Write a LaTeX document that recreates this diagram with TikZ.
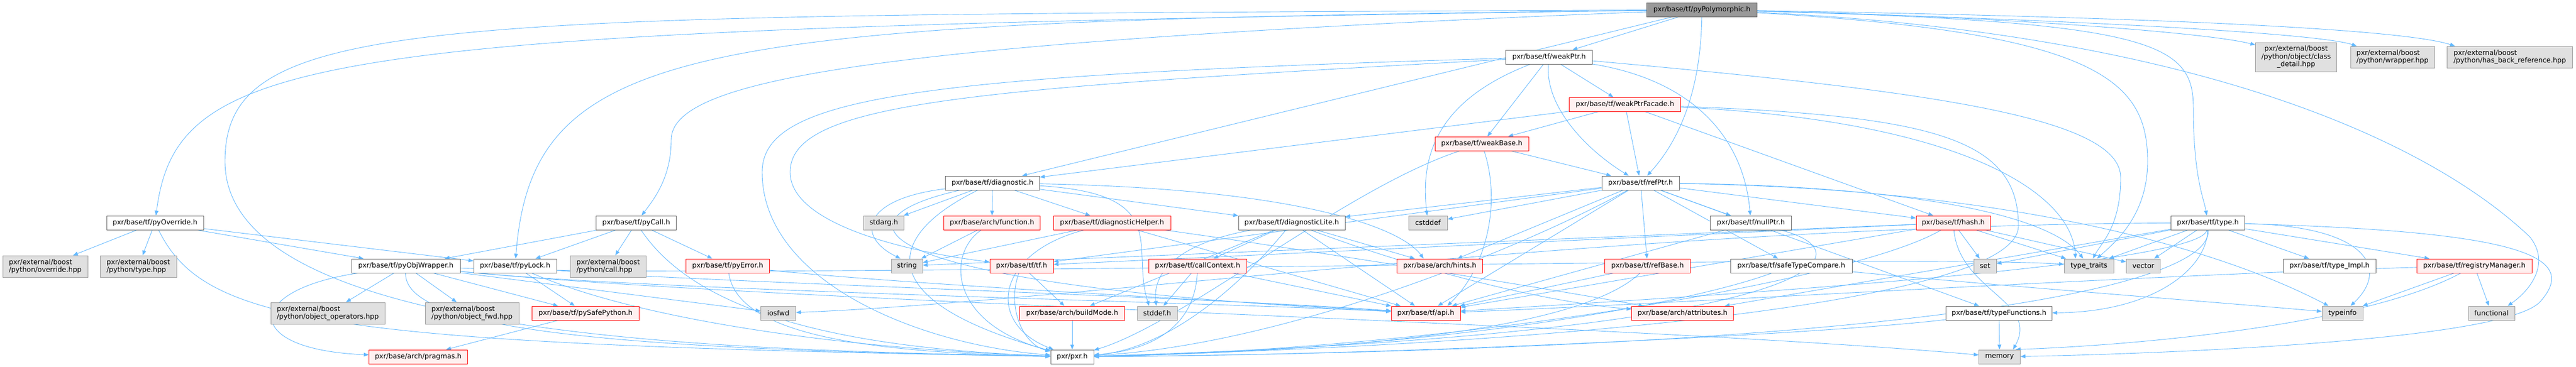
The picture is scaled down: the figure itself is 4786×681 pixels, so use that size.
\documentclass[tikz,border=0pt]{standalone}
\usepackage{fontspec}
\setmainfont{DejaVu Sans}
\usetikzlibrary{arrows.meta}

\definecolor{edgeblue}{RGB}{99,184,255}
\definecolor{redfill}{RGB}{255,240,240}
\definecolor{extfill}{RGB}{224,224,224}

\pgfdeclarelayer{background}
\pgfsetlayers{background,main}

\tikzset{
  filebox/.style={draw=black!60, fill=white, line width=1pt, minimum height=26pt,
    inner sep=2pt, font=\fontsize{12.8}{14.5}\selectfont, align=left},
  redbox/.style={filebox, draw=red, fill=redfill},
  extbox/.style={filebox, draw=black!40, fill=extfill},
  rootbox/.style={filebox, draw=black!60, fill=black!40},
  dep/.style={draw=edgeblue, line width=0.9pt, -{Triangle[length=9pt,width=7pt]}}
}

\begin{document}
\begin{tikzpicture}[x=1pt,y=-1pt]
\useasboundingbox (0,0) rectangle (4786,681);

% top
\node[rootbox, minimum width=205pt] (poly) at (3162,18) {pxr/base/tf/pyPolymorphic.h};
\node[filebox, minimum width=161pt] (weakPtr) at (2878,106) {pxr/base/tf/weakPtr.h};
\node[extbox, minimum width=151pt, minimum height=54pt, align=center] (classDetail) at (4266,106) {pxr/external/boost\\/python/object/class\\\_detail.hpp};
\node[extbox, minimum width=156pt, minimum height=40pt] (wrapper) at (4445,106) {pxr/external/boost\\/python/wrapper.hpp};
\node[extbox, minimum width=233pt, minimum height=40pt] (hasBackRef) at (4663,106) {pxr/external/boost\\/python/has\_back\_reference.hpp};
\node[redbox, minimum width=207pt] (weakPtrFacade) at (3019,194) {pxr/base/tf/weakPtrFacade.h};
\node[redbox, minimum width=174pt] (weakBase) at (2753,267) {pxr/base/tf/weakBase.h};
\node[filebox, minimum width=175pt] (diagnostic) at (1844,340) {pxr/base/tf/diagnostic.h};
\node[filebox, minimum width=144pt] (refPtr) at (3048,340) {pxr/base/tf/refPtr.h};

% middle row
\node[filebox, minimum width=180pt] (pyOverride) at (288,414) {pxr/base/tf/pyOverride.h};
\node[filebox, minimum width=149pt] (pyCall) at (1182,414) {pxr/base/tf/pyCall.h};
\node[extbox, minimum width=75pt] (stdarg) at (1642,414) {stdarg.h};
\node[redbox, minimum width=179pt] (archFunction) at (1843,414) {pxr/base/arch/function.h};
\node[redbox, minimum width=218pt] (diagHelper) at (2066,414) {pxr/base/tf/diagnosticHelper.h};
\node[filebox, minimum width=198pt] (diagLite) at (2400,414) {pxr/base/tf/diagnosticLite.h};
\node[extbox, minimum width=72pt] (cstddef) at (2653,414) {cstddef};
\node[filebox, minimum width=151pt] (nullPtr) at (3253,414) {pxr/base/tf/nullPtr.h};
\node[redbox, minimum width=138pt] (hash) at (3629,414) {pxr/base/tf/hash.h};
\node[filebox, minimum width=137pt] (type) at (4102,414) {pxr/base/tf/type.h};

\node[extbox, minimum width=158pt, minimum height=40pt] (override) at (84,495) {pxr/external/boost\\/python/override.hpp};
\node[extbox, minimum width=142pt, minimum height=40pt] (boostType) at (257,495) {pxr/external/boost\\/python/type.hpp};
\node[filebox, minimum width=202pt] (pyObjWrapper) at (754,494) {pxr/base/tf/pyObjWrapper.h};
\node[filebox, minimum width=154pt] (pyLock) at (957,494) {pxr/base/tf/pyLock.h};
\node[extbox, minimum width=141pt, minimum height=40pt] (callHpp) at (1130,495) {pxr/external/boost\\/python/call.hpp};
\node[redbox, minimum width=155pt] (pyError) at (1352,494) {pxr/base/tf/pyError.h};
\node[extbox, minimum width=58pt] (string) at (1685,494) {string};
\node[redbox, minimum width=118pt] (tfh) at (1898,494) {pxr/base/tf/tf.h};
\node[redbox, minimum width=182pt] (callContext) at (2225,494) {pxr/base/tf/callContext.h};
\node[redbox, minimum width=159pt] (hints) at (2675,494) {pxr/base/arch/hints.h};
\node[redbox, minimum width=159pt] (refBase) at (3061,494) {pxr/base/tf/refBase.h};
\node[filebox, minimum width=226pt] (safeType) at (3328,494) {pxr/base/tf/safeTypeCompare.h};
\node[extbox, minimum width=42pt] (set) at (3688,494) {set};
\node[extbox, minimum width=92pt] (typeTraits) at (3881,494) {type\_traits};
\node[extbox, minimum width=63pt] (vector) at (3982,494) {vector};
\node[filebox, minimum width=172pt] (typeImpl) at (4328,494) {pxr/base/tf/type\_Impl.h};
\node[redbox, minimum width=214pt] (registry) at (4597,494) {pxr/base/tf/registryManager.h};

% bottom rows
\node[extbox, minimum width=212pt, minimum height=40pt] (objOps) at (609,582) {pxr/external/boost\\/python/object\_operators.hpp};
\node[extbox, minimum width=174pt, minimum height=40pt] (objFwd) at (877,582) {pxr/external/boost\\/python/object\_fwd.hpp};
\node[redbox, minimum width=199pt] (pySafePython) at (1088,582) {pxr/base/tf/pySafePython.h};
\node[extbox, minimum width=65pt] (iosfwd) at (1446,582) {iosfwd};
\node[redbox, minimum width=195pt] (buildMode) at (1992,582) {pxr/base/arch/buildMode.h};
\node[extbox, minimum width=74pt] (stddef) at (2150,582) {stddef.h};
\node[redbox, minimum width=128pt] (api) at (2649,582) {pxr/base/tf/api.h};
\node[redbox, minimum width=189pt] (attributes) at (3126,582) {pxr/base/arch/attributes.h};
\node[filebox, minimum width=197pt] (typeFunctions) at (3714,582) {pxr/base/tf/typeFunctions.h};
\node[extbox, minimum width=76pt] (typeinfo) at (4352,582) {typeinfo};
\node[extbox, minimum width=86pt] (functional) at (4629,582) {functional};

\node[redbox, minimum width=183pt] (pragmas) at (777,663) {pxr/base/arch/pragmas.h};
\node[filebox, minimum width=80pt] (pxr) at (1992,663) {pxr/pxr.h};
\node[extbox, minimum width=77pt] (memory) at (3715,663) {memory};

\begin{pgfonlayer}{background}
% pyPolymorphic.h
\draw[dep] (poly) .. controls (600,55) and (330,90) .. (pyOverride);
\draw[dep] (poly) .. controls (800,30) and (418,20) .. (418,300) .. controls (418,640) and (1400,650) .. (pxr);
\draw[dep] (poly) .. controls (1300,40) and (990,70) .. (pyLock);
\draw[dep] (poly) .. controls (1600,80) and (1247,150) .. (1247,260) .. controls (1247,330) and (1215,370) .. (pyCall);
\draw[dep] (poly) -- (diagnostic);
\draw[dep] (poly) -- (weakPtr);
\draw[dep] (poly) .. controls (3160,150) and (3130,250) .. (refPtr);
\draw[dep] (poly) .. controls (3700,30) and (4100,60) .. ([yshift=-5pt]classDetail.north west);
\draw[dep] (poly) .. controls (3800,35) and (4300,60) .. ([xshift=12pt]wrapper.north west);
\draw[dep] (poly) .. controls (3900,30) and (4450,50) .. ([xshift=15pt]hasBackRef.north west);
\draw[dep] (poly) .. controls (4000,40) and (4075,80) .. (4075,200) .. controls (4075,330) and (4095,370) .. (type);
\draw[dep] (poly) .. controls (4050,60) and (4500,250) .. (4700,440) .. controls (4740,490) and (4700,540) .. ([xshift=30pt]functional.north);
\draw[dep] (poly) .. controls (3900,60) and (3990,150) .. (3990,300) .. controls (3990,400) and (3930,450) .. ([xshift=15pt]typeTraits.north);

% weakPtr.h
\draw[dep] (weakPtr) -- (weakPtrFacade);
\draw[dep] (weakPtr) .. controls (2870,200) and (2950,280) .. (refPtr);
\draw[dep] (weakPtr) .. controls (3150,150) and (3240,260) .. (nullPtr);
\draw[dep] (weakPtr) -- (weakBase);
\draw[dep] (weakPtr) .. controls (2660,190) and (2640,300) .. (cstddef);
\draw[dep] (weakPtr) .. controls (3600,170) and (3940,220) .. (3940,330) .. controls (3940,420) and (3905,450) .. (typeTraits);
\draw[dep] (weakPtr) .. controls (1700,140) and (1416,180) .. (1416,320) .. controls (1416,520) and (1700,640) .. (pxr);
\draw[dep] (weakPtr) .. controls (1800,165) and (1468,190) .. (1468,320) .. controls (1468,420) and (1700,470) .. (tfh);

% weakPtrFacade.h
\draw[dep] (weakPtrFacade) -- (weakBase);
\draw[dep] (weakPtrFacade) -- (refPtr);
\draw[dep] (weakPtrFacade) -- (hash);
\draw[dep] (weakPtrFacade) -- (diagnostic);
\draw[dep] (weakPtrFacade) .. controls (3600,215) and (3750,260) .. (3750,420) .. controls (3750,560) and (2900,640) .. (pxr);
\draw[dep] (weakPtrFacade) .. controls (3650,225) and (3850,360) .. ([xshift=-25pt]typeTraits.north);

% weakBase.h
\draw[dep] (weakBase) -- (refPtr);
\draw[dep] (weakBase) .. controls (2790,380) and (2760,500) .. ([xshift=40pt]api.north);
\draw[dep] (weakBase) .. controls (2500,350) and (2200,600) .. (pxr);

% diagnostic.h
\draw[dep] (diagnostic) -- (stdarg);
\draw[dep] (diagnostic) -- (archFunction);
\draw[dep] (diagnostic) -- (diagHelper);
\draw[dep] (diagnostic) -- (diagLite);
\draw[dep] (diagnostic) .. controls (1600,370) and (1590,440) .. ([xshift=-12pt]string.north);
\draw[dep] (diagnostic) .. controls (2180,360) and (2100,460) .. ([xshift=-15pt]stddef.north);
\draw[dep] (diagnostic) .. controls (2400,350) and (2600,420) .. ([xshift=-30pt]hints.north);
\draw[dep] (diagnostic) .. controls (1530,410) and (1600,530) .. (api);
\draw[dep] (diagnostic) .. controls (1640,440) and (1620,560) .. (pxr);

% arch/function.h, diagnosticHelper.h
\draw[dep] (archFunction) -- (string);
\draw[dep] (archFunction) .. controls (1760,470) and (1760,600) .. (pxr);
\draw[dep] (diagHelper) -- (string);
\draw[dep] (diagHelper) -- (api);
\draw[dep] (diagHelper) .. controls (1850,470) and (1830,600) .. (pxr);
\draw[dep] (diagHelper) .. controls (2400,460) and (2900,540) .. (attributes);

% diagnosticLite.h
\draw[dep] (diagLite) -- (callContext);
\draw[dep] (diagLite) -- (api);
\draw[dep] (diagLite) -- (hints);
\draw[dep] (diagLite) -- (buildMode);
\draw[dep] (diagLite) .. controls (2200,450) and (2140,500) .. (stddef);
\draw[dep] (diagLite) .. controls (2280,560) and (2150,650) .. (pxr);
\draw[dep] (diagLite) .. controls (2600,490) and (2850,560) .. (attributes);

% callContext.h, tf.h, buildMode.h
\draw[dep] (callContext) -- (stddef);
\draw[dep] (callContext) -- (api);
\draw[dep] (callContext) .. controls (2220,600) and (2150,650) .. (pxr);
\draw[dep] (tfh) -- (buildMode);
\draw[dep] (tfh) .. controls (1870,570) and (1900,640) .. (pxr);
\draw[dep] (buildMode) -- (pxr);

% refPtr.h
\draw[dep] (refPtr) -- (nullPtr);
\draw[dep] (refPtr) -- (hash);
\draw[dep] (refPtr) -- (refBase);
\draw[dep] (refPtr) -- (safeType);
\draw[dep] (refPtr) -- (typeFunctions);
\draw[dep] (refPtr) -- (diagLite);
\draw[dep] (refPtr) -- (cstddef);
\draw[dep] (refPtr) -- (hints);
\draw[dep] (refPtr) -- (tfh);
\draw[dep] (refPtr) -- (api);
\draw[dep] (refPtr) .. controls (2850,450) and (2400,640) .. (pxr);
\draw[dep] (refPtr) .. controls (3700,350) and (4100,450) .. (typeinfo);
\draw[dep] (refPtr) .. controls (3500,345) and (3800,390) .. (typeTraits);

% nullPtr.h, refBase.h, safeTypeCompare.h
\draw[dep] (nullPtr) -- (api);
\draw[dep] (nullPtr) .. controls (3480,470) and (3400,620) .. (pxr);
\draw[dep] (refBase) -- (api);
\draw[dep] (refBase) .. controls (2950,600) and (2600,650) .. (pxr);
\draw[dep] (safeType) .. controls (3150,560) and (2700,650) .. (pxr);
\draw[dep] (safeType) .. controls (3700,530) and (4100,560) .. (typeinfo);

% hash.h
\draw[dep] (hash) -- (set);
\draw[dep] (hash) .. controls (3640,540) and (3790,560) .. ([xshift=25pt]memory.north);
\draw[dep] (hash) .. controls (3450,520) and (2700,650) .. (pxr);
\draw[dep] (hash) -- (tfh);
\draw[dep] (hash) -- (string);
\draw[dep] (hash) -- (api);
\draw[dep] (hash) -- (typeTraits);
\draw[dep] (hash) -- (vector);

% typeFunctions.h
\draw[dep] (typeFunctions) -- (memory);
\draw[dep] (typeFunctions) .. controls (3400,620) and (2600,660) .. (pxr);

% type.h
\draw[dep] (type) -- (typeTraits);
\draw[dep] (type) -- (vector);
\draw[dep] (type) -- (typeImpl);
\draw[dep] (type) -- (registry);
\draw[dep] (type) .. controls (4400,420) and (4440,500) .. ([xshift=15pt]typeinfo.north);
\draw[dep] (type) .. controls (4700,430) and (4790,480) .. (4720,560) .. controls (4650,640) and (3900,660) .. (memory);
\draw[dep] (type) -- (set);
\draw[dep] (type) .. controls (4100,500) and (4000,580) .. (typeFunctions);
\draw[dep] (type) .. controls (3000,420) and (2000,560) .. (iosfwd);
\draw[dep] (type) .. controls (4110,540) and (3500,650) .. (pxr);
\draw[dep] (type) .. controls (4090,500) and (3000,560) .. (api);
\draw[dep] (type) -- (attributes);

% registryManager.h
\draw[dep] (registry) -- (typeinfo);
\draw[dep] (registry) -- (functional);
\draw[dep] (registry) .. controls (4400,600) and (4000,640) .. ([xshift=30pt]memory.north);
\draw[dep] (registry) .. controls (4000,510) and (3000,570) .. (api);

% pyCall.h, pyError.h, pyLock.h
\draw[dep] (pyCall) -- (pyObjWrapper);
\draw[dep] (pyCall) -- (pyLock);
\draw[dep] (pyCall) -- (callHpp);
\draw[dep] (pyCall) -- (pyError);
\draw[dep] (pyCall) .. controls (1280,560) and (1500,645) .. (pxr);
\draw[dep] (pyError) .. controls (1700,530) and (2300,560) .. (api);
\draw[dep] (pyError) .. controls (1370,620) and (1600,655) .. (pxr);
\draw[dep] (pyLock) -- (pySafePython);
\draw[dep] (pyLock) .. controls (1200,520) and (2200,550) .. (api);
\draw[dep] (pyLock) .. controls (1200,600) and (1600,650) .. (pxr);

% pyObjWrapper.h
\draw[dep] (pyObjWrapper) .. controls (450,540) and (450,650) .. (pragmas);
\draw[dep] (pyObjWrapper) -- (objOps);
\draw[dep] (pyObjWrapper) -- (objFwd);
\draw[dep] (pyObjWrapper) -- (pySafePython);
\draw[dep] (pyObjWrapper) -- (iosfwd);
\draw[dep] (pyObjWrapper) .. controls (1200,540) and (2200,560) .. (api);
\draw[dep] (pyObjWrapper) .. controls (1400,560) and (3000,600) .. (memory);
\draw[dep] (pyObjWrapper) .. controls (1400,520) and (3500,470) .. (typeTraits);
\draw[dep] (pyObjWrapper) .. controls (750,620) and (1200,650) .. (pxr);

% pyOverride.h, pySafePython.h
\draw[dep] (pyOverride) -- (override);
\draw[dep] (pyOverride) -- (boostType);
\draw[dep] (pyOverride) -- (pyObjWrapper);
\draw[dep] (pyOverride) -- (pyLock);
\draw[dep] (pyOverride) .. controls (380,600) and (600,640) .. (pxr);
\draw[dep] (pySafePython) -- (pragmas);
\end{pgfonlayer}
\end{tikzpicture}
\end{document}
